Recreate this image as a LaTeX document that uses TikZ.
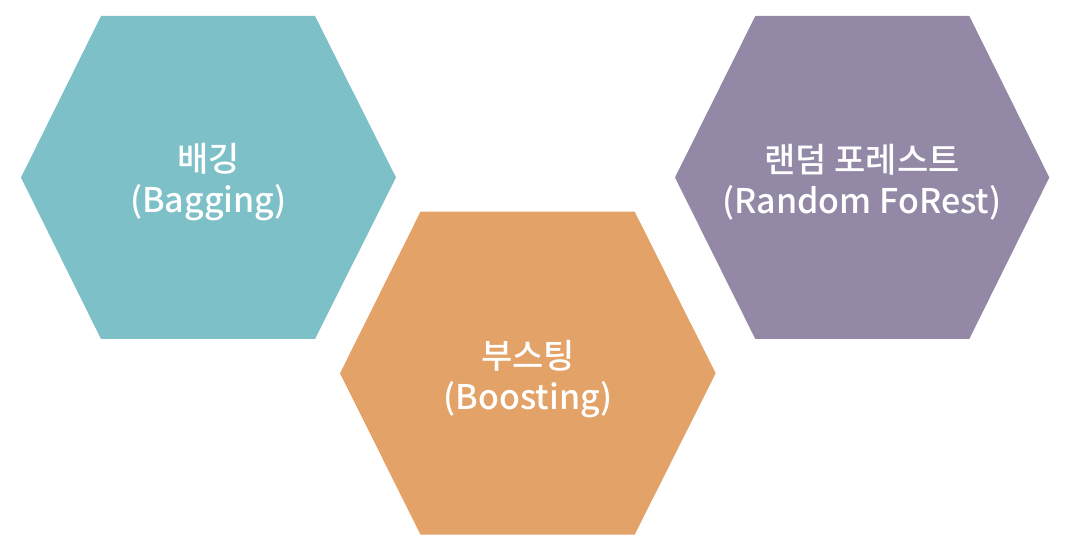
\documentclass[tikz,border=0pt]{standalone}
\usepackage{fontspec}
\setmainfont{Noto Sans CJK KR}[UprightFont=* Medium]
\definecolor{hexteal}{RGB}{125,192,199}
\definecolor{hexorange}{RGB}{227,162,104}
\definecolor{hexpurple}{RGB}{147,136,166}
\begin{document}
\begin{tikzpicture}[x=1pt,y=1pt,
  hexlabel/.style={text=white,align=center,font=\fontsize{34}{41}\selectfont,inner sep=0pt}]
\useasboundingbox (0,0) rectangle (1082,548);
% hexagon 1 (teal)
\fill[hexteal] (101,532) -- (315,532) -- (396,370.5) -- (315,209) -- (101,209) -- (21,370.5) -- cycle;
% hexagon 2 (orange)
\fill[hexorange] (420.5,336.3) -- (634.7,336.3) -- (715.7,174.7) -- (634.7,13.3) -- (420.5,13.3) -- (340,174.7) -- cycle;
% hexagon 3 (purple)
\fill[hexpurple] (755.3,532) -- (969.3,532) -- (1049.3,370.5) -- (969.3,209) -- (755.3,209) -- (675,370.5) -- cycle;
\node[hexlabel] (bagging) at (208.5,366) {배깅\\(Bagging)};
\node[hexlabel] (boosting) at (528,169) {부스팅\\(Boosting)};
\node[hexlabel] (forest) at (862,366) {랜덤 포레스트\\(Random FoRest)};
\end{tikzpicture}
\end{document}
